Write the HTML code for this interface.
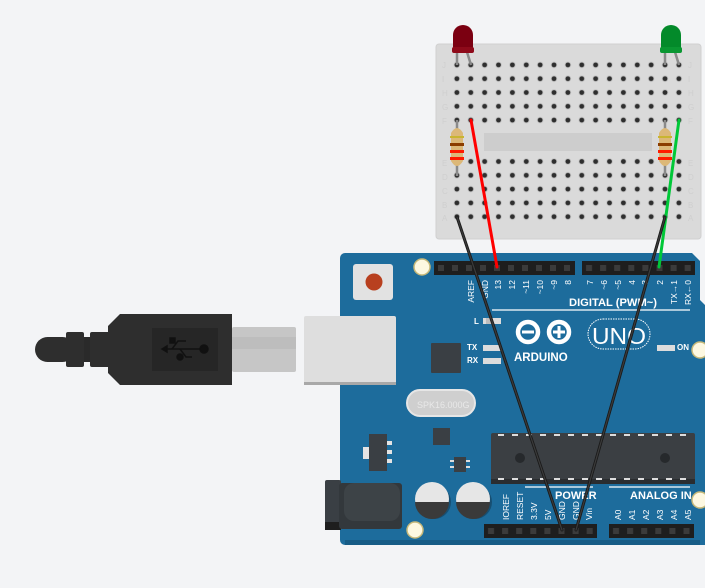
<!DOCTYPE html>
<html><head><meta charset="utf-8"><style>
html,body{margin:0;padding:0;background:#f3f4f6;}
svg{display:block;font-family:"Liberation Sans",sans-serif;}
</style></head><body>
<svg width="705" height="588" viewBox="0 0 705 588" xmlns="http://www.w3.org/2000/svg">
<defs>
<pattern id="holes" patternUnits="userSpaceOnUse" x="450" y="58" width="13.875" height="13.8">
<circle cx="6.9" cy="6.9" r="3.3" fill="#c4c4c4"/><circle cx="6.9" cy="6.9" r="2.4" fill="#2e2e2e"/>
</pattern>
<pattern id="pins" patternUnits="userSpaceOnUse" x="434" y="261" width="14" height="14">
<rect x="2.5" y="2.5" width="9" height="9" fill="#1e1e1e"/><rect x="4" y="4" width="6" height="6" fill="#3b3b3b"/>
</pattern>
<pattern id="pins2" patternUnits="userSpaceOnUse" x="582" y="261" width="14.1" height="14">
<rect x="2.5" y="2.5" width="9" height="9" fill="#1e1e1e"/><rect x="4" y="4" width="6" height="6" fill="#3b3b3b"/>
</pattern>
<pattern id="pins3" patternUnits="userSpaceOnUse" x="484" y="524" width="14.1" height="14">
<rect x="2.5" y="2.5" width="9" height="9" fill="#1e1e1e"/><rect x="4" y="4" width="6" height="6" fill="#3b3b3b"/>
</pattern>
<pattern id="pins4" patternUnits="userSpaceOnUse" x="609" y="524" width="14.1" height="14">
<rect x="2.5" y="2.5" width="9" height="9" fill="#1e1e1e"/><rect x="4" y="4" width="6" height="6" fill="#3b3b3b"/>
</pattern>
</defs>
<rect width="705" height="588" fill="#f3f4f6"/>

<!-- Breadboard -->
<rect x="436" y="44" width="265" height="195" rx="3" fill="#dadada" stroke="#d0d0d0"/>
<rect x="450" y="58" width="235" height="69" fill="url(#holes)"/>
<rect x="450" y="156" width="235" height="69" fill="url(#holes)"/>
<rect x="484" y="133" width="168" height="18" fill="#cdcdcd"/>
<g fill="#cfcfcf" font-size="8">
<text x="442" y="68">J</text><text x="442" y="82">I</text><text x="442" y="96">H</text><text x="442" y="110">G</text><text x="442" y="124">F</text>
<text x="442" y="166">E</text><text x="442" y="180">D</text><text x="442" y="194">C</text><text x="442" y="208">B</text><text x="442" y="221">A</text>
<text x="688" y="68">J</text><text x="688" y="82">I</text><text x="688" y="96">H</text><text x="688" y="110">G</text><text x="688" y="124">F</text>
<text x="688" y="166">E</text><text x="688" y="180">D</text><text x="688" y="194">C</text><text x="688" y="208">B</text><text x="688" y="221">A</text>
</g>

<!-- LEDs -->
<g stroke="#8a8a8a" stroke-width="2.5" fill="none">
<line x1="457" y1="52" x2="457" y2="65"/><line x1="467" y1="52" x2="471" y2="65"/>
<line x1="665" y1="52" x2="665" y2="65"/><line x1="675" y1="52" x2="679" y2="65"/>
</g>
<path d="M453,52 V35 a10,10 0 0 1 20,0 V52 Z" fill="#7b0011"/>
<rect x="452" y="47" width="22" height="6" rx="2" fill="#8e0a1a"/>
<path d="M661,52 V35 a10,10 0 0 1 20,0 V52 Z" fill="#038a2a"/>
<rect x="660" y="47" width="22" height="6" rx="2" fill="#0a9732"/>

<!-- Resistors -->
<g>
<line x1="457" y1="120" x2="457" y2="176" stroke="#8a8a8a" stroke-width="2.5"/>
<path d="M451,133 q6,-10 12,0 v28 q-6,10 -12,0 Z" fill="#dcb878"/>
<rect x="450" y="136" width="14" height="2" fill="#c9b531"/>
<rect x="450" y="143" width="14" height="3" fill="#8b3d00"/>
<rect x="450" y="150" width="14" height="3" fill="#ff1a00"/>
<rect x="450" y="157" width="14" height="3" fill="#ff1a00"/>
<line x1="665" y1="120" x2="665" y2="176" stroke="#8a8a8a" stroke-width="2.5"/>
<path d="M659,133 q6,-10 12,0 v28 q-6,10 -12,0 Z" fill="#dcb878"/>
<rect x="658" y="136" width="14" height="2" fill="#c9b531"/>
<rect x="658" y="143" width="14" height="3" fill="#8b3d00"/>
<rect x="658" y="150" width="14" height="3" fill="#ff1a00"/>
<rect x="658" y="157" width="14" height="3" fill="#ff1a00"/>
</g>

<!-- Arduino board -->
<path d="M345,253 H692 l8,8 V300 l5,5 V545 H345 a5,5 0 0 1 -5,-5 V258 a5,5 0 0 1 5,-5 Z" fill="#1d6c9c"/>
<rect x="345" y="540" width="355" height="5" fill="#175c86"/>
<circle cx="422" cy="267" r="8" fill="#fdf8e1" stroke="#c7b97a" stroke-width="1.5"/>
<circle cx="415" cy="530" r="8" fill="#fdf8e1" stroke="#c7b97a" stroke-width="1.5"/>
<circle cx="700" cy="350" r="8" fill="#fdf8e1" stroke="#c7b97a" stroke-width="1.5"/>
<circle cx="700" cy="500" r="8" fill="#fdf8e1" stroke="#c7b97a" stroke-width="1.5"/>

<!-- headers -->
<rect x="434" y="261" width="141" height="14" fill="#1e1e1e"/><rect x="434" y="261" width="140" height="14" fill="url(#pins)"/>
<rect x="582" y="261" width="113" height="14" fill="#1e1e1e"/><rect x="582" y="261" width="113" height="14" fill="url(#pins2)"/>
<rect x="484" y="524" width="113" height="14" fill="#1e1e1e"/><rect x="484" y="524" width="113" height="14" fill="url(#pins3)"/>
<rect x="609" y="524" width="85" height="14" fill="#1e1e1e"/><rect x="609" y="524" width="85" height="14" fill="url(#pins4)"/>

<!-- reset button -->
<rect x="353" y="264" width="40" height="36" rx="3" fill="#e2e2e2"/>
<circle cx="374" cy="282" r="8.5" fill="#b8401f"/>

<!-- USB jack on board -->
<rect x="304" y="316" width="92" height="68" rx="2" fill="#dedede"/>
<rect x="304" y="382" width="92" height="3" fill="#a8a8a8"/>

<!-- labels top -->
<g fill="#ffffff" font-size="8.5" text-anchor="end">
<text transform="translate(474,280) rotate(-90)">AREF</text>
<text transform="translate(488,280) rotate(-90)">GND</text>
<text transform="translate(501,280) rotate(-90)">13</text>
<text transform="translate(515,280) rotate(-90)">12</text>
<text transform="translate(529,280) rotate(-90)">~11</text>
<text transform="translate(543,280) rotate(-90)">~10</text>
<text transform="translate(557,280) rotate(-90)">~9</text>
<text transform="translate(571,280) rotate(-90)">8</text>
<text transform="translate(593,280) rotate(-90)">7</text>
<text transform="translate(607,280) rotate(-90)">~6</text>
<text transform="translate(621,280) rotate(-90)">~5</text>
<text transform="translate(635,280) rotate(-90)">4</text>
<text transform="translate(648,280) rotate(-90)">~3</text>
<text transform="translate(663,280) rotate(-90)">2</text>
<text transform="translate(677,280) rotate(-90)">TX→1</text>
<text transform="translate(691,280) rotate(-90)">RX←0</text>
</g>
<text x="569" y="306" fill="#fff" font-size="11" font-weight="bold" textLength="88" lengthAdjust="spacingAndGlyphs">DIGITAL (PWM~)</text>
<line x1="492" y1="310" x2="690" y2="310" stroke="#fff" stroke-width="1.2"/>

<!-- LEDs small -->
<g font-size="8" font-weight="bold" fill="#fff">
<text x="474" y="324">L</text><text x="467" y="350">TX</text><text x="467" y="363">RX</text><text x="677" y="350">ON</text>
</g>
<rect x="483" y="318" width="18" height="6" fill="#dcdcdc"/><rect x="486" y="318" width="6" height="6" fill="#bdbdbd"/>
<rect x="483" y="345" width="18" height="6" fill="#dcdcdc"/>
<rect x="483" y="358" width="18" height="6" fill="#dcdcdc"/>
<rect x="657" y="345" width="18" height="6" fill="#dcdcdc"/>

<!-- logo -->
<g fill="none" stroke="#fff" stroke-width="4.5">
<circle cx="528" cy="332" r="10"/><circle cx="559" cy="332" r="10"/>
</g>
<rect x="522" y="330.5" width="12" height="3" fill="#fff"/>
<rect x="553" y="330.5" width="12" height="3" fill="#fff"/><rect x="557.5" y="326" width="3" height="12" fill="#fff"/>
<text x="514" y="361" fill="#fff" font-size="11.5" font-weight="bold">ARDUINO</text>
<rect x="588" y="319" width="62" height="30" rx="15" fill="none" stroke="#fff" stroke-width="1" stroke-dasharray="1.5,1"/>
<text x="592" y="344" fill="#fff" font-size="23" textLength="54" lengthAdjust="spacingAndGlyphs">UNO</text>

<!-- chips -->
<rect x="431" y="343" width="30" height="30" rx="1" fill="#3a3f44"/>
<rect x="407" y="390" width="68" height="26" rx="13" fill="#cfcfcf" stroke="#e6e6e6" stroke-width="2"/>
<text x="417" y="408" fill="#e8e8e8" font-size="9">SPK16.000G</text>
<rect x="433" y="428" width="17" height="17" fill="#3a3f44"/>
<rect x="363" y="447" width="8" height="12" fill="#e4e4e4"/>
<rect x="369" y="434" width="18" height="37" fill="#3a3f44"/>
<rect x="387" y="441" width="5" height="4" fill="#e4e4e4"/><rect x="387" y="450" width="5" height="4" fill="#e4e4e4"/><rect x="387" y="459" width="5" height="4" fill="#e4e4e4"/>
<rect x="454" y="457" width="12" height="15" fill="#3a3f44"/>
<rect x="450" y="460" width="4" height="2" fill="#ddd"/><rect x="450" y="466" width="4" height="2" fill="#ddd"/><rect x="466" y="460" width="4" height="2" fill="#ddd"/><rect x="466" y="466" width="4" height="2" fill="#ddd"/>
<rect x="491" y="433" width="204" height="51" rx="2" fill="#3b3f43"/>
<rect x="491" y="479" width="204" height="5" fill="#2a2d30"/>
<g fill="#ddd">
<rect x="498" y="434" width="6" height="2"/><rect x="512" y="434" width="6" height="2"/><rect x="526" y="434" width="6" height="2"/><rect x="540" y="434" width="6" height="2"/><rect x="554" y="434" width="6" height="2"/><rect x="568" y="434" width="6" height="2"/><rect x="582" y="434" width="6" height="2"/><rect x="596" y="434" width="6" height="2"/><rect x="610" y="434" width="6" height="2"/><rect x="624" y="434" width="6" height="2"/><rect x="638" y="434" width="6" height="2"/><rect x="652" y="434" width="6" height="2"/><rect x="666" y="434" width="6" height="2"/><rect x="680" y="434" width="6" height="2"/>
<rect x="498" y="478" width="6" height="2"/><rect x="512" y="478" width="6" height="2"/><rect x="526" y="478" width="6" height="2"/><rect x="540" y="478" width="6" height="2"/><rect x="554" y="478" width="6" height="2"/><rect x="568" y="478" width="6" height="2"/><rect x="582" y="478" width="6" height="2"/><rect x="596" y="478" width="6" height="2"/><rect x="610" y="478" width="6" height="2"/><rect x="624" y="478" width="6" height="2"/><rect x="638" y="478" width="6" height="2"/><rect x="652" y="478" width="6" height="2"/><rect x="666" y="478" width="6" height="2"/><rect x="680" y="478" width="6" height="2"/>
</g>
<circle cx="520" cy="458" r="5" fill="#26292c"/><circle cx="665" cy="458" r="5" fill="#26292c"/>

<!-- power jack -->
<rect x="325" y="480" width="16" height="50" rx="2" fill="#3a3f44"/>
<rect x="325" y="522" width="16" height="8" fill="#1e1e1e"/>
<rect x="339" y="483" width="63" height="46" rx="3" fill="#33383c"/>
<rect x="344" y="483" width="56" height="38" rx="10" fill="#3d4347"/>
<!-- capacitors -->
<circle cx="434" cy="502" r="17" fill="#174f72"/>
<circle cx="432" cy="499" r="17" fill="#e6e6e6"/>
<path d="M415,502 h34 a17,17 0 0 1 -34,0 Z" fill="#3a3a3a"/>
<circle cx="475" cy="502" r="17" fill="#174f72"/>
<circle cx="473" cy="499" r="17" fill="#e6e6e6"/>
<path d="M456,502 h34 a17,17 0 0 1 -34,0 Z" fill="#3a3a3a"/>

<!-- bottom labels -->
<line x1="525" y1="487" x2="593" y2="487" stroke="#fff" stroke-width="1.2"/>
<line x1="609" y1="487" x2="690" y2="487" stroke="#fff" stroke-width="1.2"/>
<g fill="#fff" font-size="8.5">
<text x="555" y="499" font-size="11" font-weight="bold">POWER</text>
<text x="630" y="499" font-size="11" font-weight="bold">ANALOG IN</text>
<text transform="translate(509,520) rotate(-90)">IOREF</text>
<text transform="translate(523,520) rotate(-90)">RESET</text>
<text transform="translate(537,520) rotate(-90)">3.3V</text>
<text transform="translate(551,520) rotate(-90)">5V</text>
<text transform="translate(565,520) rotate(-90)">GND</text>
<text transform="translate(579,520) rotate(-90)">GND</text>
<text transform="translate(592,520) rotate(-90)">Vin</text>
<text transform="translate(621,520) rotate(-90)">A0</text>
<text transform="translate(635,520) rotate(-90)">A1</text>
<text transform="translate(649,520) rotate(-90)">A2</text>
<text transform="translate(663,520) rotate(-90)">A3</text>
<text transform="translate(677,520) rotate(-90)">A4</text>
<text transform="translate(691,520) rotate(-90)">A5</text>
</g>

<!-- USB cable -->
<rect x="232" y="327" width="64" height="45" rx="2" fill="#c6c6c6"/>
<rect x="232" y="337" width="64" height="12" fill="#bdbdbd"/>
<rect x="35" y="337" width="40" height="25" rx="12.5" fill="#2e2e2e"/>
<rect x="66" y="332" width="18" height="35" rx="2" fill="#2e2e2e"/>
<rect x="84" y="337" width="10" height="25" fill="#2a2a2a"/>
<rect x="90" y="332" width="20" height="35" rx="2" fill="#2e2e2e"/>
<path d="M120,314 H232 V385 H120 l-12,-12 V326 Z" fill="#2e2e2e"/>
<rect x="152" y="328" width="66" height="43" fill="#262626"/>
<g stroke="#111" stroke-width="1.5" fill="#111">
<line x1="162" y1="349" x2="204" y2="349"/>
<path d="M162,349 l5,-3 v6 Z"/>
<circle cx="204" cy="349" r="4"/>
<polyline points="172,349 178,341 186,341" fill="none"/>
<rect x="170" y="338" width="5" height="5"/>
<polyline points="180,349 186,357 192,357" fill="none"/>
<circle cx="180" cy="357" r="3"/>
</g>

<!-- wires -->
<g stroke-linecap="round" fill="none">
<line x1="471" y1="120" x2="497" y2="267" stroke="#ff0000" stroke-width="3"/>
<line x1="679" y1="120" x2="659" y2="267" stroke="#00c838" stroke-width="3"/>
<line x1="457" y1="217" x2="562" y2="530" stroke="#1a1a1a" stroke-width="3"/>
<line x1="457" y1="217" x2="562" y2="530" stroke="#3b3b3b" stroke-width="1.2"/>
<line x1="665" y1="217" x2="576" y2="530" stroke="#1a1a1a" stroke-width="3"/>
<line x1="665" y1="217" x2="576" y2="530" stroke="#3b3b3b" stroke-width="1.2"/>
</g>
</svg>
</body></html>
